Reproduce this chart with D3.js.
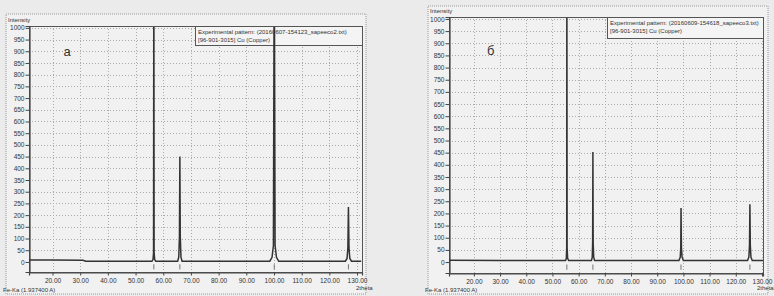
<!DOCTYPE html>
<html>
<head>
<meta charset="utf-8">
<script src="https://cdnjs.cloudflare.com/ajax/libs/d3/7.8.5/d3.min.js"></script>
<style>
  body { margin: 0; background: #ebebeb; }
  svg { display: block; }
  text { font-family: "Liberation Sans", Arial, sans-serif; fill: #333; }
</style>
</head>
<body>
<div id="chart"></div>
<script>
const width = 774;
const height = 296;

// tick values
const thetaTicks = [20, 30, 40, 50, 60, 70, 80, 90, 100, 110, 120, 130];
const intensityTicks = d3.range(0, 1001, 50);

// pattern "а" (left)
const thetaA = [11, 20, 31, 32, 55.9, 56.3, 56.5, 56.6, 56.7, 56.9, 57.3, 65.2, 65.6, 65.85, 66.0, 66.15, 66.4, 66.8, 98.5, 99.3, 99.8, 100.1, 100.4, 100.9, 101.7, 125.8, 126.4, 126.7, 126.9, 127.1, 127.4, 128.0, 131.5];
const countsA = [8, 8, 7, 3, 3, 10, 40, 1400, 40, 10, 3, 3, 20, 110, 450, 110, 20, 3, 3, 20, 70, 1400, 70, 20, 3, 3, 15, 60, 235, 60, 15, 3, 3];
const refA = [56.6, 66.0, 100.1, 126.9];

// pattern "б" (right)
const thetaB = [10.5, 30, 55.0, 55.3, 55.45, 55.5, 55.6, 55.8, 56.2, 64.9, 65.2, 65.35, 65.45, 65.55, 65.75, 66.1, 98.3, 98.8, 99.0, 99.1, 99.25, 99.5, 100.0, 124.5, 125.0, 125.25, 125.4, 125.55, 125.8, 126.3, 130.4];
const countsB = [7, 6, 6, 15, 60, 1400, 60, 15, 6, 6, 20, 80, 453, 80, 20, 6, 6, 20, 60, 222, 60, 20, 6, 6, 20, 70, 238, 70, 20, 6, 6];
const refB = [55.5, 65.45, 99.1, 125.4];

const svg = d3.select("#chart").append("svg")
    .attr("width", width)
    .attr("height", height);

function drawPattern(cfg) {
    const g = svg.append("g");
    const x = d3.scaleLinear().domain(cfg.xDomain).range([cfg.left, cfg.right]);
    const y = d3.scaleLinear().domain(cfg.yDomain).range([cfg.bottom, cfg.top]);

    // outer panel (dotted)
    g.append("rect")
        .attr("x", cfg.panel[0]).attr("y", cfg.panel[1])
        .attr("width", cfg.panel[2] - cfg.panel[0]).attr("height", cfg.panel[3] - cfg.panel[1])
        .attr("fill", "#f1f1f1")
        .attr("stroke", "#999")
        .attr("stroke-dasharray", "1,1");

    // grid
    g.append("g").selectAll("line.h").data(intensityTicks.slice(1)).join("line")
        .attr("x1", cfg.left).attr("x2", cfg.right)
        .attr("y1", d => Math.round(y(d)) + 0.5).attr("y2", d => Math.round(y(d)) + 0.5)
        .attr("stroke", "#aaa").attr("stroke-dasharray", "1,2");
    g.append("g").selectAll("line.v").data(thetaTicks).join("line")
        .attr("x1", d => Math.round(x(d)) + 0.5).attr("x2", d => Math.round(x(d)) + 0.5)
        .attr("y1", cfg.top).attr("y2", cfg.bottom)
        .attr("stroke", "#aaa").attr("stroke-dasharray", "1,2");

    // frame
    g.append("rect")
        .attr("x", cfg.left + 0.5).attr("y", cfg.top + 0.5)
        .attr("width", cfg.right - cfg.left).attr("height", cfg.bottom - cfg.top)
        .attr("fill", "none").attr("stroke", "#555");

    // axes
    const yAxis = g.append("g")
        .attr("transform", `translate(${cfg.left + 0.5},0)`)
        .call(d3.axisLeft(y).tickValues(intensityTicks).tickFormat(d3.format("d")).tickSize(4).tickPadding(1));
    const xAxis = g.append("g")
        .attr("transform", `translate(0,${cfg.bottom + 0.5})`)
        .call(d3.axisBottom(x).tickValues(thetaTicks).tickFormat(d3.format(".2f")).tickSize(3).tickPadding(3));
    [yAxis, xAxis].forEach(a => {
        a.select(".domain").attr("stroke", "#444").attr("stroke-width", 1.2);
        a.selectAll(".tick line").attr("stroke", "#444");
        a.selectAll(".tick text").attr("font-size", 6.5).attr("fill", "#333")
            .attr("font-family", "Liberation Sans, Arial, sans-serif");
    });

    // reference markers
    g.append("g").selectAll("line").data(cfg.ref).join("line")
        .attr("x1", d => x(d)).attr("x2", d => x(d))
        .attr("y1", y(-10)).attr("y2", y(-32))
        .attr("stroke", "#555").attr("stroke-width", 0.8);

    // legend box (the pattern is drawn over it)
    g.append("rect")
        .attr("x", cfg.legend[0] + 0.5).attr("y", cfg.top + 0.5)
        .attr("width", cfg.right - cfg.legend[0]).attr("height", cfg.legend[1])
        .attr("fill", "#f4f4f4").attr("stroke", "#555");
    g.append("text").attr("x", cfg.legend[0] + 3).attr("y", cfg.top + 8)
        .attr("font-size", 6).text(cfg.label1);
    g.append("text").attr("x", cfg.legend[0] + 3).attr("y", cfg.top + 16)
        .attr("font-size", 6).text("[96-901-3015] Cu (Copper)");

    // pattern
    const clipId = "clip" + cfg.id;
    svg.append("clipPath").attr("id", clipId).append("rect")
        .attr("x", cfg.left).attr("y", cfg.top + 1)
        .attr("width", cfg.right - cfg.left).attr("height", cfg.bottom - cfg.top);
    const pts = cfg.theta.map((t, i) => [t, cfg.counts[i]]);
    g.append("path")
        .datum(pts)
        .attr("clip-path", `url(#${clipId})`)
        .attr("fill", "none")
        .attr("stroke", "#333")
        .attr("stroke-width", 1.5)
        .attr("d", d3.line().x(d => x(d[0])).y(d => y(d[1])));

    // texts
    g.append("text").attr("x", cfg.panel[0] + 2).attr("y", cfg.top - 4)
        .attr("font-size", 6).text("Intensity");
    g.append("text").attr("x", cfg.panel[0] - 3).attr("y", 292)
        .attr("font-size", 6).text("Fe-Ka (1.937400 A)");
    g.append("text").attr("x", cfg.right - 6).attr("y", 290)
        .attr("font-size", 6).text("2theta");
    g.append("text").attr("x", x(cfg.letter[0])).attr("y", y(cfg.letter[1]))
        .attr("font-size", 13).attr("font-family", "Liberation Serif, serif").text(cfg.letter[2]);
}

drawPattern({
    id: "A", theta: thetaA, counts: countsA, ref: refA,
    xDomain: [11.5, 131.8], yDomain: [-43, 1008],
    left: 29, right: 362, top: 26, bottom: 272,
    panel: [6, 14, 366, 294],
    legend: [195, 19],
    label1: "Experimental pattern: (20160607-154123_sapeeco2.txt)",
    letter: [24, 880, "а"]
});

drawPattern({
    id: "B", theta: thetaB, counts: countsB, ref: refB,
    xDomain: [10.5, 130.4], yDomain: [-45, 1008],
    left: 449, right: 763, top: 17, bottom: 273,
    panel: [428, 6, 768, 294],
    legend: [607, 21],
    label1: "Experimental pattern: (20160609-154618_sapeeco3.txt)",
    letter: [25, 850, "б"]
});
</script>
</body>
</html>
